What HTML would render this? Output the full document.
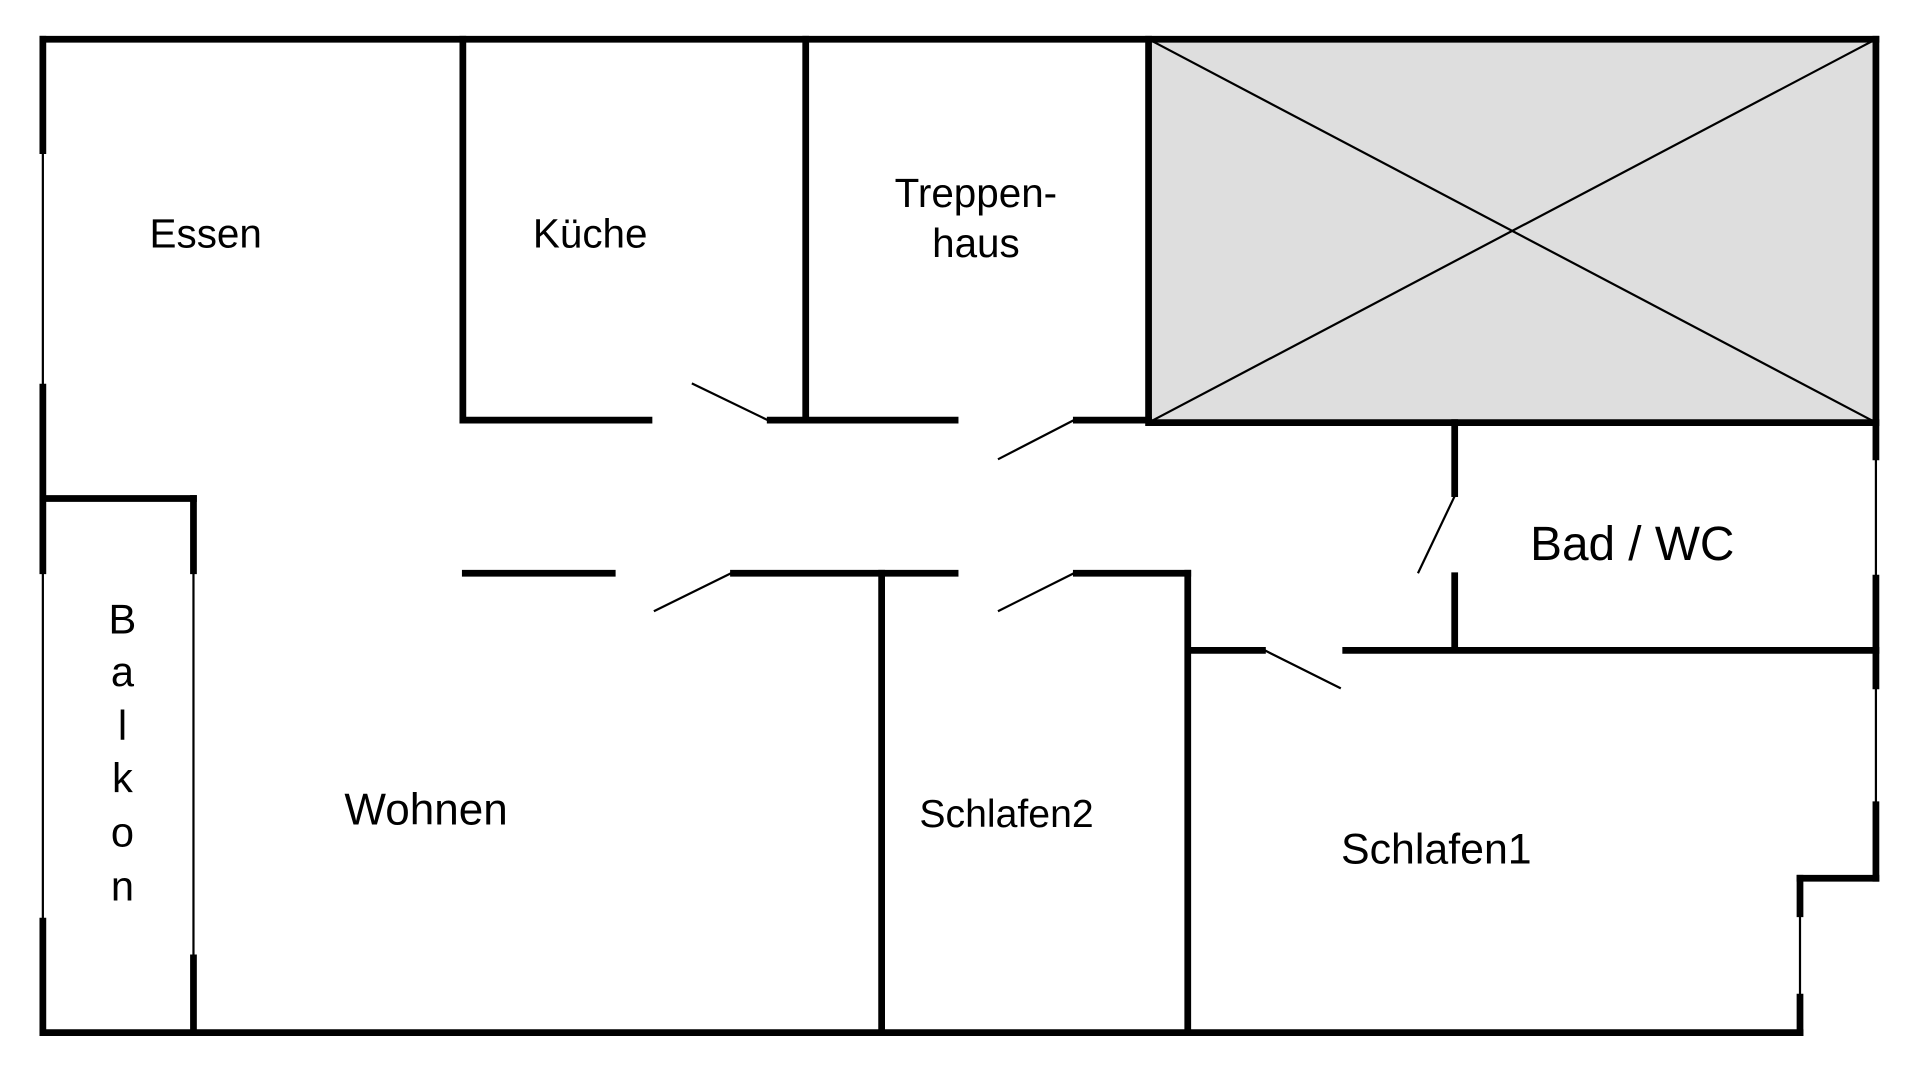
<!DOCTYPE html>
<html><head><meta charset="utf-8"><style>
html,body{margin:0;padding:0;background:#fff;}
svg{display:block;}
text{font-family:"Liberation Sans",Arial,sans-serif;fill:#000;}
</style></head><body>
<svg width="1920" height="1073" viewBox="0 0 1568 876" preserveAspectRatio="none" xmlns="http://www.w3.org/2000/svg">
<rect x="938" y="32" width="594" height="313" fill="#dedede"/>
<g stroke="#000" stroke-width="5.5" fill="none" stroke-linecap="square">
<line x1="35" y1="32" x2="1532" y2="32"/>
<line x1="35" y1="32" x2="35" y2="123"/>
<line x1="35" y1="316" x2="35" y2="466"/>
<line x1="35" y1="752" x2="35" y2="843"/>
<line x1="35" y1="843" x2="1470" y2="843"/>
<line x1="1532" y1="32" x2="1532" y2="373"/>
<line x1="1532" y1="472" x2="1532" y2="560"/>
<line x1="1532" y1="657" x2="1532" y2="717"/>
<line x1="1470" y1="717" x2="1532" y2="717"/>
<line x1="1470" y1="717" x2="1470" y2="746"/>
<line x1="1470" y1="814" x2="1470" y2="843"/>
<line x1="35" y1="407" x2="158" y2="407"/>
<line x1="158" y1="407" x2="158" y2="466"/>
<line x1="158" y1="782" x2="158" y2="843"/>
<line x1="378" y1="32" x2="378" y2="343"/>
<line x1="378" y1="343" x2="530" y2="343"/>
<line x1="629" y1="343" x2="780" y2="343"/>
<line x1="658" y1="32" x2="658" y2="343"/>
<line x1="879" y1="343" x2="938" y2="343"/>
<line x1="938" y1="32" x2="938" y2="343"/>
<line x1="938" y1="345" x2="1532" y2="345"/>
<line x1="1188" y1="345" x2="1188" y2="403"/>
<line x1="1188" y1="470" x2="1188" y2="529"/>
<line x1="1099" y1="531" x2="1532" y2="531"/>
<line x1="972" y1="531" x2="1031" y2="531"/>
<line x1="970" y1="468" x2="970" y2="843"/>
<line x1="879" y1="468" x2="970" y2="468"/>
<line x1="599" y1="468" x2="780" y2="468"/>
<line x1="720" y1="468" x2="720" y2="843"/>
<line x1="380" y1="468" x2="500" y2="468"/>
</g>
<g stroke="#000" stroke-width="1.8" fill="none">
<line x1="35" y1="123" x2="35" y2="316"/>
<line x1="35" y1="466" x2="35" y2="752"/>
<line x1="158" y1="466" x2="158" y2="782"/>
<line x1="1532" y1="373" x2="1532" y2="472"/>
<line x1="1532" y1="560" x2="1532" y2="657"/>
<line x1="1470" y1="746" x2="1470" y2="814"/>
<line x1="938" y1="32" x2="1532" y2="345"/>
<line x1="1532" y1="32" x2="938" y2="345"/>
<line x1="565" y1="313" x2="627" y2="343"/>
<line x1="815" y1="375" x2="877" y2="343"/>
<line x1="1158" y1="468" x2="1188" y2="405"/>
<line x1="1033" y1="531" x2="1095" y2="562"/>
<line x1="815" y1="499" x2="877" y2="468"/>
<line x1="534" y1="499" x2="597" y2="468"/>
</g>
<g font-size="33" text-anchor="middle">
<text x="168" y="202">Essen</text>
<text x="482" y="202">Küche</text>
<text x="797" y="169">Treppen-</text>
<text x="797" y="210">haus</text>
<text x="1333" y="457" font-size="39">Bad / WC</text>
<text x="348" y="673" font-size="36">Wohnen</text>
<text x="822" y="675" font-size="32">Schlafen2</text>
<text x="1173" y="705" font-size="35">Schlafen1</text>
<text x="100" y="517" font-size="34">B</text>
<text x="100" y="560" font-size="34">a</text>
<text x="100" y="604" font-size="34">l</text>
<text x="100" y="647" font-size="34">k</text>
<text x="100" y="691" font-size="34">o</text>
<text x="100" y="735" font-size="34">n</text>
</g>
</svg>
</body></html>
